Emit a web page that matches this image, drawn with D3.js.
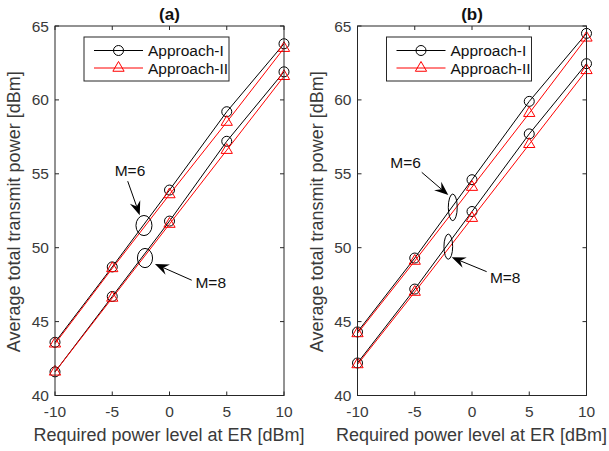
<!DOCTYPE html>
<html>
<head>
<meta charset="utf-8">
<script src="https://cdn.jsdelivr.net/npm/d3@7"></script>
<style>
  body { margin: 0; background: #fff; }
  text { font-family: "Liberation Sans", Arial, sans-serif; fill: #3a3a3a; }
</style>
</head>
<body>
<svg id="chart" width="609" height="451"></svg>
<script>
// required power level at ER [dBm]
const levels = [-10, -5, 0, 5, 10];
const xTicks = [-10, -5, 0, 5, 10];
const yTicks = [40, 45, 50, 55, 60, 65];
const seriesNames = ['Approach-I', 'Approach-II'];

// panel (a)
const aM6I  = [43.6, 48.7, 53.9, 59.2, 63.8];
const aM6II = [43.5, 48.6, 53.6, 58.5, 63.5];
const aM8I  = [41.6, 46.7, 51.8, 57.2, 61.9];
const aM8II = [41.6, 46.6, 51.6, 56.6, 61.6];
// panel (b)
const bM6I  = [44.3, 49.3, 54.6, 59.9, 64.5];
const bM6II = [44.2, 49.1, 54.1, 59.1, 64.2];
const bM8I  = [42.2, 47.2, 52.45, 57.7, 62.45];
const bM8II = [42.1, 47.0, 52.0, 57.0, 62.0];

// annotations in data units: label, text pos, arrow tail, arrow tip, ellipse centre + radii
const aNotes = [
  { label: 'M=6', tx: -3.45, ty: 55.2, x1: -3.65, y1: 54.5, x2: -2.6, y2: 52.2, cx: -2.23, cy: 51.5, rx: 0.7, ry: 0.68 },
  { label: 'M=8', tx: 3.6, ty: 47.65, x1: 1.94, y1: 47.8, x2: -1.27, y2: 48.9, cx: -2.14, cy: 49.3, rx: 0.66, ry: 0.65 }
];
const bNotes = [
  { label: 'M=6', tx: -5.8, ty: 55.75, x1: -4.39, y1: 55.1, x2: -2.07, y2: 53.56, cx: -1.68, cy: 52.73, rx: 0.39, ry: 0.9 },
  { label: 'M=8', tx: 2.9, ty: 48.0, x1: 1.28, y1: 48.38, x2: -1.77, y2: 49.35, cx: -2.07, cy: 50.07, rx: 0.38, ry: 0.85 }
];

const svg = d3.select('#chart');
const axisColor = '#262626';

function drawPanel(left, right, title, lines, notes) {
  const top = 26, bottom = 395.5;
  const x = d3.scaleLinear().domain([-10, 10]).range([left, right]);
  const y = d3.scaleLinear().domain([40, 65]).range([bottom, top]);
  const g = svg.append('g');

  // data lines
  const line = d3.line().x((d, i) => x(levels[i])).y(d => y(d));
  lines.forEach(s => {
    g.append('path').datum(s.values)
      .attr('fill', 'none').attr('stroke', s.color).attr('stroke-width', 1)
      .attr('d', line);
    const sym = d3.symbol().type(s.marker === 'o' ? d3.symbolCircle : d3.symbolTriangle)
      .size(s.marker === 'o' ? Math.PI * 25 : 55);
    g.selectAll(null).data(s.values).enter().append('path')
      .attr('d', sym)
      .attr('transform', (d, i) => `translate(${x(levels[i])},${y(d)})`)
      .attr('fill', 'none').attr('stroke', s.color).attr('stroke-width', 1);
  });

  // axes box with inward ticks on all sides
  g.append('rect').attr('x', left).attr('y', top)
    .attr('width', right - left).attr('height', bottom - top)
    .attr('fill', 'none').attr('stroke', axisColor).attr('stroke-width', 1);
  const tl = 4;
  xTicks.forEach(t => {
    g.append('line').attr('x1', x(t)).attr('x2', x(t)).attr('y1', bottom).attr('y2', bottom - tl).attr('stroke', axisColor);
    g.append('line').attr('x1', x(t)).attr('x2', x(t)).attr('y1', top).attr('y2', top + tl).attr('stroke', axisColor);
    g.append('text').attr('x', x(t)).attr('y', bottom + 21)
      .attr('text-anchor', 'middle').attr('font-size', 15.5).text(t < 0 ? '-' + Math.abs(t) : t);
  });
  yTicks.forEach(t => {
    g.append('line').attr('x1', left).attr('x2', left + tl).attr('y1', y(t)).attr('y2', y(t)).attr('stroke', axisColor);
    g.append('line').attr('x1', right).attr('x2', right - tl).attr('y1', y(t)).attr('y2', y(t)).attr('stroke', axisColor);
    g.append('text').attr('x', left - 6).attr('y', y(t) + 5.5)
      .attr('text-anchor', 'end').attr('font-size', 15.5).text(t);
  });

  // labels and title
  g.append('text').attr('x', (left + right) / 2 - 0.5).attr('y', 441)
    .attr('text-anchor', 'middle').attr('font-size', 18)
    .text('Required power level at ER [dBm]');
  g.append('text').attr('transform', `translate(${left - 35},${(top + bottom) / 2 + 1}) rotate(-90)`)
    .attr('text-anchor', 'middle').attr('font-size', 18)
    .text('Average total transmit power [dBm]');
  g.append('text').attr('x', (left + right) / 2).attr('y', 20)
    .attr('text-anchor', 'middle').attr('font-size', 17).attr('font-weight', 'bold')
    .style('fill', '#111').text(title);

  // legend
  const lx = left + 29, ly = top + 11, lw = 145, lh = 44;
  const lg = g.append('g');
  lg.append('rect').attr('x', lx).attr('y', ly).attr('width', lw).attr('height', lh)
    .attr('fill', '#fff').attr('stroke', axisColor);
  seriesNames.forEach((name, i) => {
    const yy = ly + 13.5 + i * 17.5;
    const color = i === 0 ? '#000' : '#ff0000';
    lg.append('line').attr('x1', lx + 10).attr('x2', lx + 59).attr('y1', yy).attr('y2', yy)
      .attr('stroke', color);
    lg.append('path')
      .attr('d', d3.symbol().type(i === 0 ? d3.symbolCircle : d3.symbolTriangle).size(i === 0 ? Math.PI * 25 : 55))
      .attr('transform', `translate(${lx + 34.5},${yy})`)
      .attr('fill', 'none').attr('stroke', color);
    lg.append('text').attr('x', lx + 64).attr('y', yy + 5.5).attr('font-size', 15.5)
      .style('fill', '#111').text(name);
  });

  // annotations
  notes.forEach(n => {
    const ax1 = x(n.x1), ay1 = y(n.y1), ax2 = x(n.x2), ay2 = y(n.y2);
    const ang = Math.atan2(ay2 - ay1, ax2 - ax1);
    const hl = 14, hw = 5.5;
    const bx = ax2 - hl * Math.cos(ang), by = ay2 - hl * Math.sin(ang);
    const ix = ax2 - hl * 0.65 * Math.cos(ang), iy = ay2 - hl * 0.65 * Math.sin(ang);
    const px = -Math.sin(ang), py = Math.cos(ang);
    g.append('line').attr('x1', ax1).attr('y1', ay1).attr('x2', ix).attr('y2', iy)
      .attr('stroke', '#000').attr('stroke-width', 1);
    g.append('path')
      .attr('d', `M${ax2},${ay2}L${bx + px * hw},${by + py * hw}L${ix},${iy}L${bx - px * hw},${by - py * hw}Z`)
      .attr('fill', '#000');
    g.append('ellipse').attr('cx', x(n.cx)).attr('cy', y(n.cy))
      .attr('rx', x(n.cx + n.rx) - x(n.cx)).attr('ry', y(n.cy) - y(n.cy + n.ry))
      .attr('fill', 'none').attr('stroke', '#000').attr('stroke-width', 1);
    g.append('text').attr('x', x(n.tx)).attr('y', y(n.ty) + 5.5)
      .attr('text-anchor', 'middle').attr('font-size', 15.5).style('fill', '#111').text(n.label);
  });
}

drawPanel(55, 284, '(a)', [
  { values: aM6I, color: '#000', marker: 'o' },
  { values: aM8I, color: '#000', marker: 'o' },
  { values: aM6II, color: '#ff0000', marker: '^' },
  { values: aM8II, color: '#ff0000', marker: '^' }
], aNotes);

drawPanel(357.5, 586.5, '(b)', [
  { values: bM6I, color: '#000', marker: 'o' },
  { values: bM8I, color: '#000', marker: 'o' },
  { values: bM6II, color: '#ff0000', marker: '^' },
  { values: bM8II, color: '#ff0000', marker: '^' }
], bNotes);
</script>
</body>
</html>
